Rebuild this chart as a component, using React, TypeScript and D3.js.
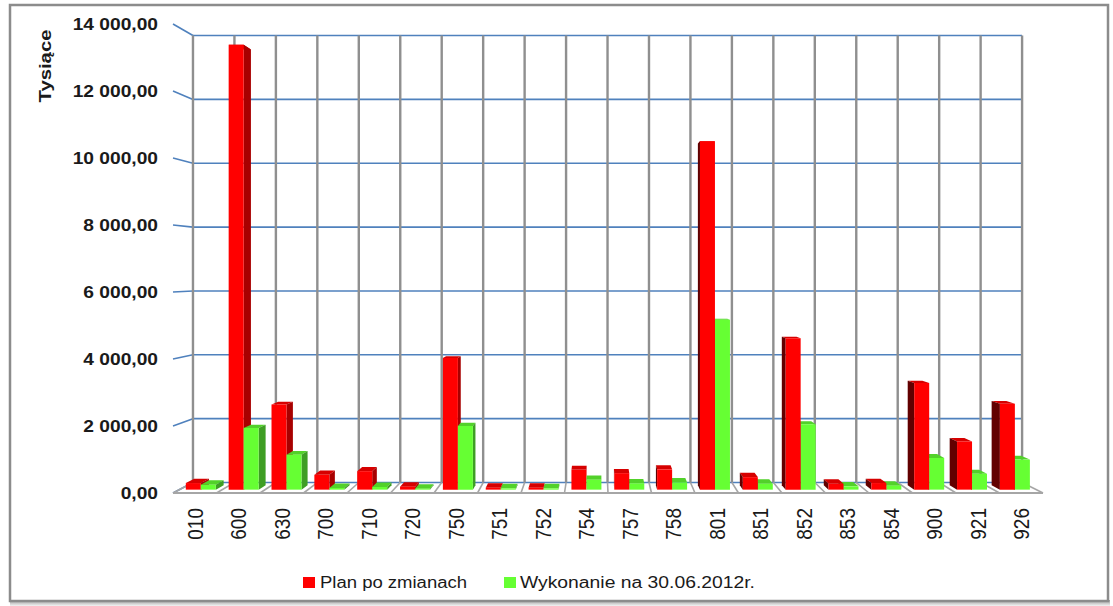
import React from 'react';
import * as d3 from 'd3';

// values in thousands
const categories = ['010', '600', '630', '700', '710', '720', '750', '751', '752', '754', '757', '758', '801', '851', '852', '853', '854', '900', '921', '926'];
const planValues = [200, 13480, 2580, 450, 560, 90, 3990, 60, 60, 600, 500, 615, 10560, 380, 4590, 180, 200, 3230, 1460, 2600];
const wykonanieValues = [150, 1870, 1060, 50, 80, 30, 1930, 40, 40, 300, 190, 220, 5150, 180, 1980, 100, 120, 960, 480, 910];
const yTicks = [0, 2000, 4000, 6000, 8000, 10000, 12000, 14000];
const seriesNames = ['Plan po zmianach', 'Wykonanie na 30.06.2012r.'];

const W = 1113;
const H = 606;

// perspective: front plane -> back wall shrink toward a vanishing point
const VX = 598;
const VY = 270;
const BACK = 0.953;
const T1 = 0.32; // bar front depth
const T2 = 0.75; // bar back depth

const proj = (xf: number, yf: number, t: number): [number, number] => {
  const s = 1 - t * (1 - BACK);
  return [VX + (xf - VX) * s, VY + (yf - VY) * s];
};

const pts = (arr: [number, number][]) => arr.map(p => p.map(v => v.toFixed(2)).join(',')).join(' ');

const fmt = (v: number) => {
  const s = d3.format(',.2f')(v).replace('.', '#');
  return s.replace(/,/g, ' ').replace('#', ',');
};

const colors = [
  { front: '#ff0000', top: '#d60000', right: '#a80000', left: '#620000' },
  { front: '#66ff33', top: '#52d12a', right: '#3e9e24', left: '#2a6c17' },
];

const App: React.FC = () => {
  const x = d3.scaleBand<string>().domain(categories).range([173, 1043]).padding(0);
  const y = d3.scaleLinear().domain([0, 14000]).range([493, 24]);
  const bw = x.bandwidth();
  const barW = bw * 0.35;

  const bars: { x0: number; x1: number; v: number; s: number }[] = [];
  categories.forEach((c, i) => {
    const cx = (x(c) as number) + bw / 2;
    bars.push({ x0: cx - barW, x1: cx, v: planValues[i], s: 0 });
    bars.push({ x0: cx, x1: cx + barW, v: wykonanieValues[i], s: 1 });
  });
  // painter order: farthest from vanishing x first
  bars.sort((a, b) => Math.abs((b.x0 + b.x1) / 2 - VX) - Math.abs((a.x0 + a.x1) / 2 - VX));

  const boundaries = d3.range(categories.length + 1).map(i => 173 + i * bw);
  const [bl, bt] = proj(173, y(14000), 1);
  const [br] = proj(1043, y(14000), 1);
  const [, bb] = proj(173, y(0), 1);

  return (
    <div>
      <style>{'body{margin:0}'}</style>
      <svg width={W} height={H} style={{ display: 'block' }} fontFamily="'Liberation Sans', Arial, sans-serif">
        <defs>
          <linearGradient id="shadowB" x1="0" y1="0" x2="0" y2="1">
            <stop offset="0" stopColor="#9a9a9a" />
            <stop offset="1" stopColor="#f4f4f4" />
          </linearGradient>
        </defs>
        <rect x={0} y={0} width={W} height={H} fill="#fff" />
        {/* frame */}
        <rect x={10} y={600} width={1100} height={6} fill="url(#shadowB)" />
        <rect x={10} y={5} width={1098} height={596} fill="#fff" stroke="#8c8c8c" strokeWidth={2.5} />

        {/* back wall */}
        <rect x={bl} y={bt} width={br - bl} height={bb - bt} fill="#fff" />
        {yTicks.map(t => {
          const [x1, y1] = proj(173, y(t), 1);
          const [x2, y2] = proj(1043, y(t), 1);
          const [fx, fy] = proj(173, y(t), 0);
          return (
            <g key={t}>
              <line x1={fx} y1={fy} x2={x1} y2={y1} stroke="#4f81bd" strokeWidth={1.6} />
              <line x1={x1} y1={y1} x2={x2} y2={y2} stroke="#4f81bd" strokeWidth={1.6} />
              <text x={158} y={fy} dy="0.35em" textAnchor="end" fontSize={16} fontWeight="bold" fill="#1a1a1a"
                transform={`translate(158,0) scale(1.2,1) translate(-158,0)`}>
                {fmt(t)}
              </text>
            </g>
          );
        })}
        {boundaries.map((b, i) => {
          const [x1, y1] = proj(b, y(14000), 1);
          const [, y2] = proj(b, y(0), 1);
          const [fx, fy] = proj(b, y(0), 0);
          return (
            <g key={i}>
              <line x1={x1} y1={y1} x2={x1} y2={y2} stroke="#8f8f8f" strokeWidth={2.4} />
              <line x1={x1} y1={y2} x2={fx} y2={fy} stroke="#a6a6a6" strokeWidth={1.6} />
            </g>
          );
        })}
        {/* floor front edge */}
        <line x1={173} y1={y(0)} x2={1043} y2={y(0)} stroke="#a6a6a6" strokeWidth={2} />

        {/* bars */}
        {bars.map((b, i) => {
          const c = colors[b.s];
          const yt = y(b.v);
          const yb = y(0);
          const ftl = proj(b.x0, yt, T1), ftr = proj(b.x1, yt, T1);
          const fbl = proj(b.x0, yb, T1), fbr = proj(b.x1, yb, T1);
          const btl = proj(b.x0, yt, T2), btr = proj(b.x1, yt, T2);
          const bbl = proj(b.x0, yb, T2), bbr = proj(b.x1, yb, T2);
          let side: React.ReactNode = null;
          if (b.x1 <= VX) side = <polygon points={pts([ftr, btr, bbr, fbr])} fill={c.right} />;
          else if (b.x0 >= VX) side = <polygon points={pts([ftl, btl, bbl, fbl])} fill={c.left} />;
          return (
            <g key={i}>
              <polygon points={pts([ftl, ftr, btr, btl])} fill={c.top} />
              {side}
              <polygon points={pts([ftl, ftr, fbr, fbl])} fill={c.front} />
            </g>
          );
        })}

        {/* category labels */}
        {categories.map(c => {
          const cx = (x(c) as number) + bw / 2;
          return (
            <text key={c} transform={`translate(${cx},508) rotate(-90) scale(1,1.2)`} textAnchor="end" dy="0.35em"
              fontSize={19} fill="#1a1a1a">
              {c}
            </text>
          );
        })}

        {/* y axis title */}
        <text transform="translate(45,66) rotate(-90)" textAnchor="middle" dy="0.35em" fontSize={17} fontWeight="bold"
          fill="#1a1a1a" textLength={73} lengthAdjust="spacingAndGlyphs">
          Tysiące
        </text>

        {/* legend */}
        <rect x={303} y={577} width={12} height={11} fill={colors[0].front} />
        <text x={320} y={582} dy="0.35em" fontSize={16} fill="#1a1a1a" textLength={147} lengthAdjust="spacingAndGlyphs">
          {seriesNames[0]}
        </text>
        <rect x={504} y={577} width={12} height={11} fill={colors[1].front} />
        <text x={520} y={582} dy="0.35em" fontSize={16} fill="#1a1a1a" textLength={235} lengthAdjust="spacingAndGlyphs">
          {seriesNames[1]}
        </text>
      </svg>
    </div>
  );
};

export default App;
